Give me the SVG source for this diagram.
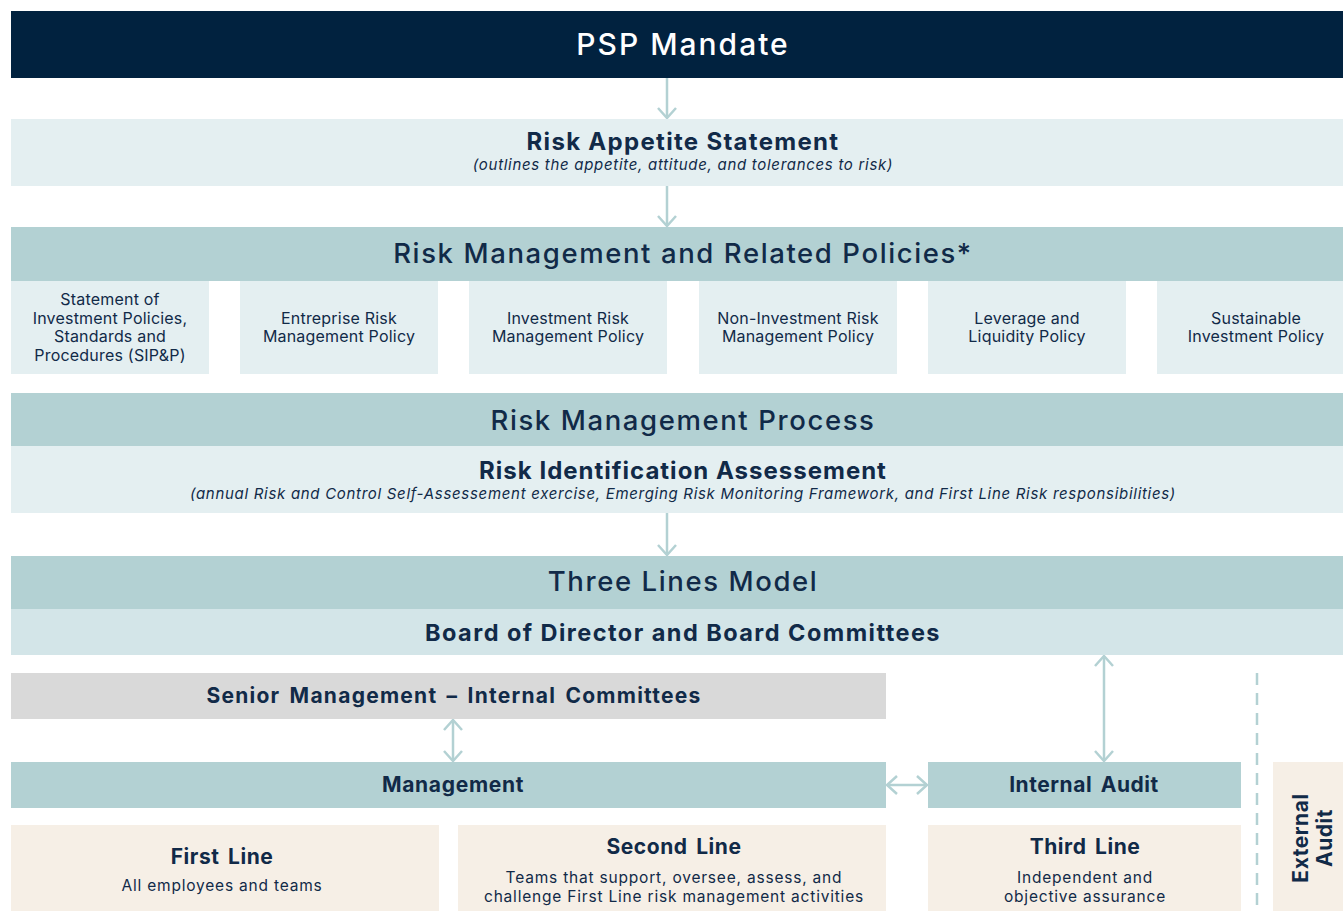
<svg xmlns="http://www.w3.org/2000/svg" width="1343" height="911" viewBox="0 0 1343 911">
  <style>
    text { font-family: Inter, "Noto Sans", "Liberation Sans", sans-serif; fill: #112a48; text-anchor: middle; }
    .navy { fill: #01223f; }
    .pale { fill: #e4eff1; }
    .teal { fill: #b3d1d3; }
    .board { fill: #d3e5e8; }
    .grey { fill: #d9d9d9; }
    .sand { fill: #f6efe6; }
    .h1 { font-size: 27.5px; font-weight: 500; letter-spacing: 1.6px; }
    .h2 { font-size: 24px; font-weight: 700; letter-spacing: 1px; }
    .h3 { font-size: 21px; font-weight: 700; letter-spacing: 0.55px; word-spacing: 3px; }
    .sub { font-size: 15px; font-style: italic; letter-spacing: 0.7px; }
    .pol { font-size: 16px; font-weight: 400; letter-spacing: 0.2px; }
    .desc { font-size: 15.5px; font-weight: 400; letter-spacing: 0.8px; }
    .conn { fill: none; stroke: #b3d1d3; stroke-width: 2.5; }
    .dash { fill: none; stroke: #b3d1d3; stroke-width: 2.5; stroke-dasharray: 12 8; }
  </style>
  <defs>
    <marker id="head" viewBox="0 0 12 20" refX="11" refY="10" markerWidth="12" markerHeight="20" markerUnits="userSpaceOnUse" orient="auto-start-reverse">
      <polyline points="1,1 11,10 1,19" fill="none" stroke="#b3d1d3" stroke-width="2.5"/>
    </marker>
  </defs>

  <rect width="1343" height="911" fill="#ffffff"/>

  <g id="psp-mandate">
    <rect class="navy" x="11" y="11" width="1332" height="67"/>
    <text x="683" y="55" style="fill:#ffffff;font-size:30px;font-weight:500;letter-spacing:2px">PSP Mandate</text>
  </g>

  <g id="risk-appetite">
    <rect class="pale" x="11" y="119" width="1332" height="67"/>
    <text class="h2" x="683" y="150" style="letter-spacing:1.3px">Risk Appetite Statement</text>
    <text class="sub" x="683" y="170">(outlines the appetite, attitude, and tolerances to risk)</text>
  </g>

  <g id="policies">
    <rect class="teal" x="11" y="227" width="1332" height="54"/>
    <text class="h1" x="683" y="263">Risk Management and Related Policies*</text>
  </g>

  <g id="policy-sipp">
    <rect class="pale" x="11" y="281" width="198" height="93"/>
    <text class="pol" x="110"><tspan x="110" y="305">Statement of</tspan><tspan x="110" y="324">Investment Policies,</tspan><tspan x="110" y="342">Standards and</tspan><tspan x="110" y="361">Procedures (SIP&amp;P)</tspan></text>
  </g>
  <g id="policy-erm">
    <rect class="pale" x="240" y="281" width="198" height="93"/>
    <text class="pol" x="339"><tspan x="339" y="324">Entreprise Risk</tspan><tspan x="339" y="342">Management Policy</tspan></text>
  </g>
  <g id="policy-irm">
    <rect class="pale" x="469" y="281" width="198" height="93"/>
    <text class="pol" x="568"><tspan x="568" y="324">Investment Risk</tspan><tspan x="568" y="342">Management Policy</tspan></text>
  </g>
  <g id="policy-nirm">
    <rect class="pale" x="699" y="281" width="198" height="93"/>
    <text class="pol" x="798"><tspan x="798" y="324">Non-Investment Risk</tspan><tspan x="798" y="342">Management Policy</tspan></text>
  </g>
  <g id="policy-leverage">
    <rect class="pale" x="928" y="281" width="198" height="93"/>
    <text class="pol" x="1027"><tspan x="1027" y="324">Leverage and</tspan><tspan x="1027" y="342">Liquidity Policy</tspan></text>
  </g>
  <g id="policy-sustainable">
    <rect class="pale" x="1157" y="281" width="186" height="93"/>
    <text class="pol" x="1256"><tspan x="1256" y="324">Sustainable</tspan><tspan x="1256" y="342">Investment Policy</tspan></text>
  </g>

  <g id="risk-process">
    <rect class="teal" x="11" y="393" width="1332" height="53"/>
    <text class="h1" x="683" y="430">Risk Management Process</text>
  </g>

  <g id="risk-identification">
    <rect class="pale" x="11" y="446" width="1332" height="67"/>
    <text class="h2" x="683" y="479">Risk Identification Assessement</text>
    <text class="sub" x="683" y="499">(annual Risk and Control Self-Assessement exercise, Emerging Risk Monitoring Framework, and First Line Risk responsibilities)</text>
  </g>

  <g id="three-lines">
    <rect class="teal" x="11" y="556" width="1332" height="53"/>
    <text class="h1" x="683" y="591">Three Lines Model</text>
  </g>

  <g id="board">
    <rect class="board" x="11" y="609" width="1332" height="46"/>
    <text class="h2" x="683" y="641" style="font-size:23.5px;letter-spacing:1.45px">Board of Director and Board Committees</text>
  </g>

  <g id="senior-management">
    <rect class="grey" x="11" y="673" width="875" height="46"/>
    <text class="h3" x="454" y="703" style="letter-spacing:1.25px;word-spacing:3px">Senior Management – Internal Committees</text>
  </g>

  <g id="management">
    <rect class="teal" x="11" y="762" width="875" height="46"/>
    <text class="h3" x="453" y="792" style="letter-spacing:0.7px">Management</text>
  </g>

  <g id="internal-audit">
    <rect class="teal" x="928" y="762" width="313" height="46"/>
    <text class="h3" x="1084" y="792">Internal Audit</text>
  </g>

  <g id="first-line">
    <rect class="sand" x="11" y="825" width="428" height="86"/>
    <text class="h3" x="222" y="864">First Line</text>
    <text class="desc" x="222" y="891">All employees and teams</text>
  </g>

  <g id="second-line">
    <rect class="sand" x="458" y="825" width="428" height="86"/>
    <text class="h3" x="674" y="854">Second Line</text>
    <text class="desc" x="674"><tspan x="674" y="883">Teams that support, oversee, assess, and</tspan><tspan x="674" y="902">challenge First Line risk management activities</tspan></text>
  </g>

  <g id="third-line">
    <rect class="sand" x="928" y="825" width="313" height="86"/>
    <text class="h3" x="1085" y="854">Third Line</text>
    <text class="desc" x="1085"><tspan x="1085" y="883">Independent and</tspan><tspan x="1085" y="902">objective assurance</tspan></text>
  </g>

  <g id="external-audit">
    <rect class="sand" x="1273" y="762" width="70" height="149"/>
    <text class="h3" transform="translate(1308 838) rotate(-90)"><tspan x="0" y="0">External</tspan><tspan x="0" y="24">Audit</tspan></text>
  </g>

  <g id="connectors">
    <line class="conn" x1="667" y1="78" x2="667" y2="118" marker-end="url(#head)"/>
    <line class="conn" x1="667" y1="186" x2="667" y2="226" marker-end="url(#head)"/>
    <line class="conn" x1="667" y1="513" x2="667" y2="555" marker-end="url(#head)"/>
    <line class="conn" x1="453" y1="720" x2="453" y2="761" marker-start="url(#head)" marker-end="url(#head)"/>
    <line class="conn" x1="887" y1="785" x2="927" y2="785" marker-start="url(#head)" marker-end="url(#head)"/>
    <line class="conn" x1="1104" y1="656" x2="1104" y2="761" marker-start="url(#head)" marker-end="url(#head)"/>
    <line class="dash" x1="1257" y1="673" x2="1257" y2="905"/>
  </g>
</svg>
